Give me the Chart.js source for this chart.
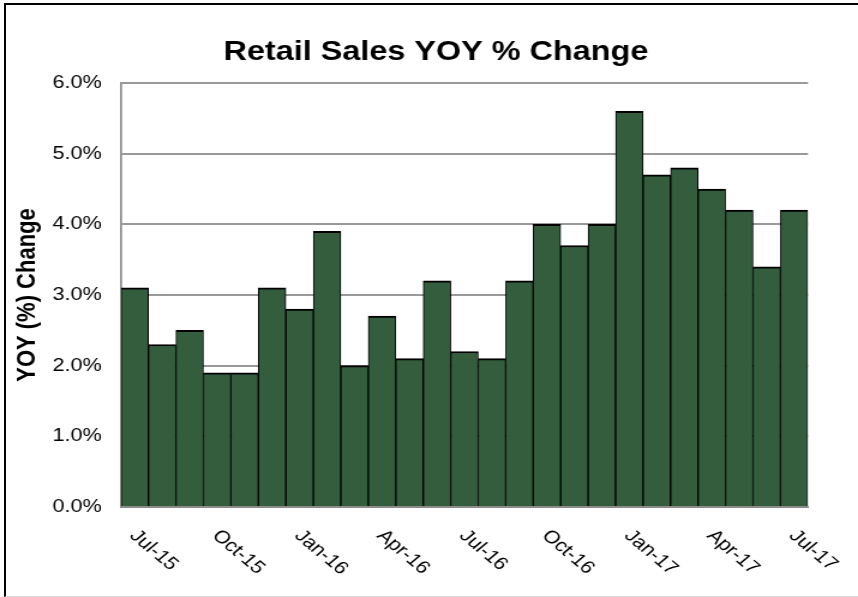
<!DOCTYPE html>
<html>
<head>
<meta charset="utf-8">
<script src="https://cdn.jsdelivr.net/npm/chart.js@4.4.1/dist/chart.umd.min.js"></script>
<style>
  html, body { margin: 0; padding: 0; background: #fff; overflow: hidden; }
  /* the source picture is stretched sideways, so the chart is drawn narrow and widened */
  #wrap { position: absolute; left: 0; top: 0; width: 715px; height: 597px; transform: scaleX(1.2); transform-origin: 0 0; }
  #frame { position: absolute; left: 4px; top: 3px; width: 900px; height: 591px;
    border-top: 2px solid #000; border-left: 2px solid #000; border-bottom: 1px solid #d9d9d9; pointer-events: none; }
</style>
</head>
<body>
<div id="wrap"><canvas id="salesChart"></canvas></div>
<div id="frame"></div>
<script>
const months = ['Jul-15', 'Aug-15', 'Sep-15', 'Oct-15', 'Nov-15', 'Dec-15',
  'Jan-16', 'Feb-16', 'Mar-16', 'Apr-16', 'May-16', 'Jun-16',
  'Jul-16', 'Aug-16', 'Sep-16', 'Oct-16', 'Nov-16', 'Dec-16',
  'Jan-17', 'Feb-17', 'Mar-17', 'Apr-17', 'May-17', 'Jun-17', 'Jul-17'];
const yoyChange = [3.1, 2.3, 2.5, 1.9, 1.9, 3.1, 2.8, 3.9, 2.0, 2.7, 2.1, 3.2,
  2.2, 2.1, 3.2, 4.0, 3.7, 4.0, 5.6, 4.7, 4.8, 4.5, 4.2, 3.4, 4.2];
const shownMonths = ['Jul-15', 'Oct-15', 'Jan-16', 'Apr-16', 'Jul-16', 'Oct-16', 'Jan-17', 'Apr-17', 'Jul-17'];
const yMin = 0, yMax = 6, yStep = 1;

const FONT = '"Liberation Sans", Arial, sans-serif';

// month labels slant down to the right, starting at their tick
const slantLabels = {
  id: 'slantLabels',
  afterDraw(chart) {
    const x = chart.scales.x, ctx = chart.ctx;
    ctx.save();
    ctx.font = `18px ${FONT}`;
    ctx.fillStyle = '#000';
    ctx.textAlign = 'left';
    ctx.textBaseline = 'middle';
    months.forEach((m, i) => {
      if (!shownMonths.includes(m)) return;
      ctx.save();
      ctx.translate(x.getPixelForValue(i) - 1.5, x.top + 26);
      ctx.rotate(Math.PI / 4);
      ctx.fillText(m, 0, 0);
      ctx.restore();
    });
    ctx.restore();
  }
};

new Chart(document.getElementById('salesChart'), {
  type: 'bar',
  data: {
    labels: months,
    datasets: [{
      data: yoyChange,
      backgroundColor: '#335d3c',
      borderColor: '#000',
      borderWidth: { top: 2, right: 1, bottom: 0, left: 1 },
      categoryPercentage: 1,
      barPercentage: 1
    }]
  },
  options: {
    responsive: true,
    maintainAspectRatio: false,
    animation: false,
    layout: { padding: { left: 11.6, right: 0, top: 0, bottom: 0 } },
    plugins: {
      legend: { display: false },
      tooltip: { enabled: false },
      title: {
        display: true,
        text: 'Retail Sales YOY % Change',
        color: '#000',
        font: { family: FONT, size: 27, weight: 'bold', lineHeight: 1.2 },
        padding: { top: 36, bottom: 14.6 }
      }
    },
    scales: {
      x: {
        grid: { display: false },
        ticks: { display: false },
        border: { display: true, color: '#8c8c8c', width: 2 },
        afterFit: s => { s.height = 90; }
      },
      y: {
        min: yMin,
        max: yMax,
        ticks: {
          stepSize: yStep,
          padding: 16,
          color: '#000',
          font: { family: FONT, size: 18 },
          callback: v => v.toFixed(1) + '%'
        },
        grid: { color: '#999', lineWidth: 2, drawTicks: false },
        border: { color: '#8c8c8c', width: 1.7 },
        title: {
          display: true,
          text: 'YOY (%) Change',
          color: '#000',
          font: { family: FONT, size: 22, weight: 'bold', lineHeight: 1 },
          padding: 0
        },
        afterFit: s => { s.width = 100.8 - 11.6; }
      },
      // empty right axis, only keeps the plot off the right edge
      yR: {
        position: 'right',
        grid: { display: false },
        border: { display: false },
        ticks: { display: false },
        afterFit: s => { s.width = 41.7; }
      }
    }
  },
  plugins: [slantLabels]
});
</script>
</body>
</html>
